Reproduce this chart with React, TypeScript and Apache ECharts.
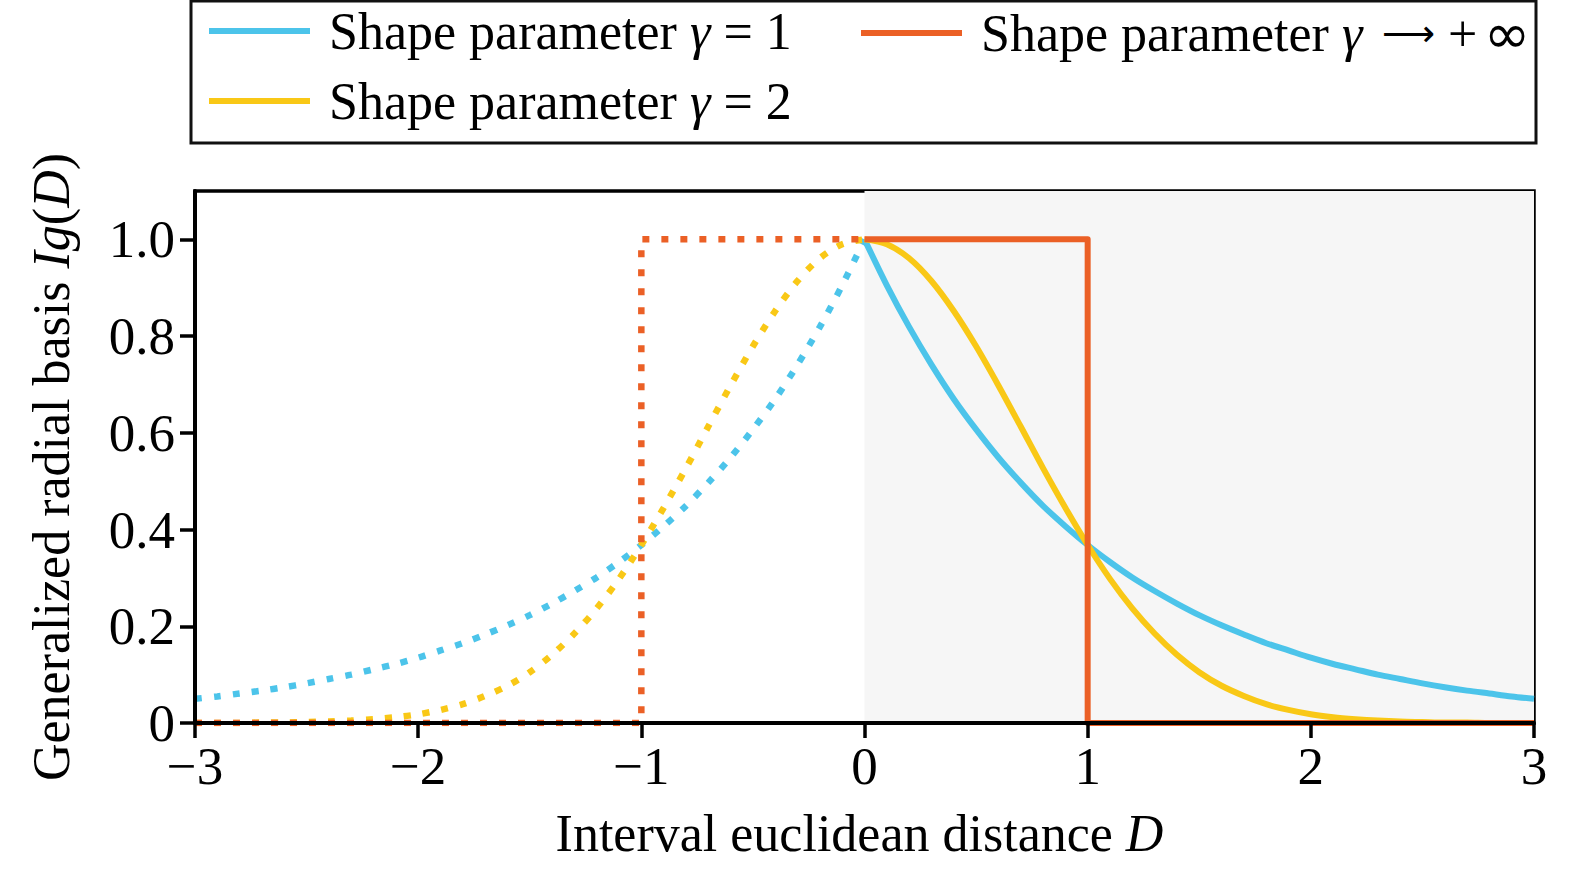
import React, { useEffect, useRef } from "react";
import * as echarts from "echarts";

// Distance values (D >= 0)
const D_STEPS = [0, 0.1, 0.2, 0.3, 0.4, 0.5, 0.6, 0.7, 0.8, 0.9, 1.0, 1.1, 1.2, 1.3, 1.4, 1.5, 1.6, 1.7, 1.8, 1.9, 2.0, 2.1, 2.2, 2.3, 2.4, 2.5, 2.6, 2.7, 2.8, 2.9, 3.0];
// Shape parameter γ = 1
const G1_VALUES = [1.0, 0.905, 0.819, 0.741, 0.67, 0.607, 0.549, 0.497, 0.449, 0.407, 0.368, 0.333, 0.301, 0.273, 0.247, 0.223, 0.202, 0.183, 0.165, 0.15, 0.135, 0.122, 0.111, 0.1, 0.091, 0.082, 0.074, 0.067, 0.061, 0.055, 0.05];
// Shape parameter γ = 2
const G2_VALUES = [1.0, 0.99, 0.961, 0.914, 0.852, 0.779, 0.698, 0.613, 0.527, 0.445, 0.368, 0.298, 0.237, 0.185, 0.141, 0.105, 0.077, 0.056, 0.039, 0.027, 0.018, 0.012, 0.008, 0.005, 0.003, 0.002, 0.001, 0.001, 0.0, 0.0, 0.0];
// Shape parameter γ → +∞ (step)
const STEP_POS_X = [0, 1, 1, 3];
const STEP_POS_Y = [1, 1, 0, 0];
const STEP_NEG_X = [-3, -1, -1, 0];
const STEP_NEG_Y = [0, 0, 1, 1];

const X_TICKS = [-3, -2, -1, 0, 1, 2, 3];
const Y_TICKS = [0, 0.2, 0.4, 0.6, 0.8, 1.0];
const SHADE_RANGE = [0, 3];

const SERIES_NAMES = ["g1", "g2", "ginf"];
const LEGEND_TEXT: Record<string, string> = {
  g1: "{a|Shape parameter }{g|γ}{a| = 1}",
  g2: "{a|Shape parameter }{g|γ}{a| = 2}",
  ginf: "{a|Shape parameter }{g|γ}{a| }{s| }{r|⟶}{a| }{a|+}{s| }{o|∞}",
};

const BLUE = "#4CC4EA";
const YELLOW = "#F9C816";
const RED = "#EB6026";
const FONT = "'Liberation Serif', 'Times New Roman', serif";

function pairs(xs: number[], ys: number[]) {
  return xs.map((x, i) => [x, ys[i]]);
}
function mirrored(xs: number[], ys: number[]) {
  return xs.map((x, i) => [-x, ys[i]]).reverse();
}

export default function App() {
  const ref = useRef<HTMLDivElement>(null);
  useEffect(() => {
    document.body.style.margin = "0";
    document.body.style.overflow = "hidden";
    document.documentElement.style.overflow = "hidden";
    const chart = echarts.init(ref.current!, null, { renderer: "svg" });
    const solid = (name: string, color: string, data: number[][], z: number, smooth: number) => ({
      name,
      type: "line",
      data,
      color,
      showSymbol: false,
      symbol: "none",
      smooth,
      z,
      lineStyle: { color, width: 6, type: "solid", join: "round" },
    });
    const dotted = (name: string, color: string, data: number[][], z: number, smooth: number) => ({
      name,
      type: "line",
      data,
      color,
      showSymbol: false,
      symbol: "none",
      smooth,
      z,
      lineStyle: { color, width: 6.5, type: [7, 12], cap: "butt" },
    });
    const LH = 60;
    const legendText = {
      rich: {
        a: { fontFamily: FONT, fontSize: 52, color: "#000", lineHeight: LH },
        g: { fontFamily: FONT, fontSize: 52, color: "#000", fontStyle: "italic", lineHeight: LH },
        r: { fontFamily: "'DejaVu Sans', sans-serif", fontSize: 37, color: "#000", lineHeight: LH },
        s: { fontFamily: FONT, fontSize: 26, color: "#000", lineHeight: LH },
        o: { fontFamily: "'DejaVu Sans', sans-serif", fontSize: 56, color: "#000", lineHeight: LH },
      },
      padding: [0, 0, 0, 14],
    };
    const legendItem = (name: string, left: number, top: number) => ({
      data: [name],
      orient: "vertical",
      left,
      top,
      padding: 0,
      itemWidth: 101,
      itemHeight: 6,
      icon: "rect",
      selectedMode: false,
      formatter: (n: string) => LEGEND_TEXT[n],
      textStyle: legendText,
    });
    chart.setOption({
      animation: false,
      backgroundColor: "#fff",
      grid: {
        left: 195,
        right: 41,
        top: 191,
        bottom: 146,
        show: true,
        borderColor: "#000",
        borderWidth: 3.5,
        backgroundColor: "transparent",
        outerBoundsMode: "none",
        containLabel: false,
      },
      legend: [
        legendItem(SERIES_NAMES[0], 209, 5),
        legendItem(SERIES_NAMES[1], 209, 75),
        legendItem(SERIES_NAMES[2], 861, 5),
      ],
      graphic: [
        {
          type: "rect",
          shape: { x: 191, y: 1, width: 1345, height: 142 },
          style: { fill: "none", stroke: "#111", lineWidth: 3 },
          z: 10,
        },
      ],
      xAxis: {
        type: "value",
        min: -3,
        max: 3,
        interval: 1,
        z: 5,
        name: "{a|Interval euclidean distance }{i|D}",
        nameLocation: "middle",
        nameGap: 84,
        nameTextStyle: {
          padding: [0, 10, 0, 0],
          rich: {
            a: { fontFamily: FONT, fontSize: 52, color: "#000" },
            i: { fontFamily: FONT, fontSize: 52, color: "#000", fontStyle: "italic" },
          },
        },
        axisLine: { show: true, onZero: false, lineStyle: { color: "#000", width: 4 } },
        axisTick: { show: true, length: 15, lineStyle: { color: "#000", width: 3.5 }, customValues: X_TICKS },
        axisLabel: {
          show: true,
          margin: 16,
          fontFamily: FONT,
          fontSize: 53,
          color: "#000",
          customValues: X_TICKS,
          formatter: (v: number) => (v < 0 ? "\u2212" + Math.abs(v) : String(v)),
        },
        splitLine: { show: false },
      },
      yAxis: {
        type: "value",
        min: 0,
        max: 1.1,
        z: 5,
        name: "{a|Generalized radial basis }{i|Ig}{a|(}{i|D}{a|)}",
        nameLocation: "middle",
        nameGap: 118,
        nameTextStyle: {
          padding: [0, 20, 0, 0],
          rich: {
            a: { fontFamily: FONT, fontSize: 52, color: "#000" },
            i: { fontFamily: FONT, fontSize: 52, color: "#000", fontStyle: "italic" },
          },
        },
        axisLine: { show: true, onZero: false, lineStyle: { color: "#000", width: 4 } },
        axisTick: { show: true, length: 15, lineStyle: { color: "#000", width: 3.5 }, customValues: Y_TICKS },
        axisLabel: {
          show: true,
          margin: 20,
          fontFamily: FONT,
          fontSize: 53,
          color: "#000",
          customValues: Y_TICKS,
          formatter: (v: number) => (v === 0 ? "0" : v.toFixed(1)),
        },
        splitLine: { show: false },
      },
      series: [
        {
          name: "shade",
          type: "line",
          data: [],
          z: 1,
          silent: true,
          markArea: {
            silent: true,
            itemStyle: { color: "#F6F6F6" },
            data: [[{ xAxis: SHADE_RANGE[0] }, { xAxis: SHADE_RANGE[1] }]],
          },
        },
        dotted("g1neg", BLUE, mirrored(D_STEPS, G1_VALUES), 2, 0.3),
        dotted("g2neg", YELLOW, mirrored(D_STEPS, G2_VALUES), 2, 0.3),
        dotted("ginfneg", RED, pairs(STEP_NEG_X, STEP_NEG_Y), 3, 0),
        solid(SERIES_NAMES[0], BLUE, pairs(D_STEPS, G1_VALUES), 2, 0.3),
        solid(SERIES_NAMES[1], YELLOW, pairs(D_STEPS, G2_VALUES), 2, 0.3),
        solid(SERIES_NAMES[2], RED, pairs(STEP_POS_X, STEP_POS_Y), 3, 0),
      ],
    });
    return () => chart.dispose();
  }, []);
  return (
    <div
      ref={ref}
      style={{ position: "fixed", left: 0, top: 0, width: 1575, height: 869 }}
    />
  );
}
